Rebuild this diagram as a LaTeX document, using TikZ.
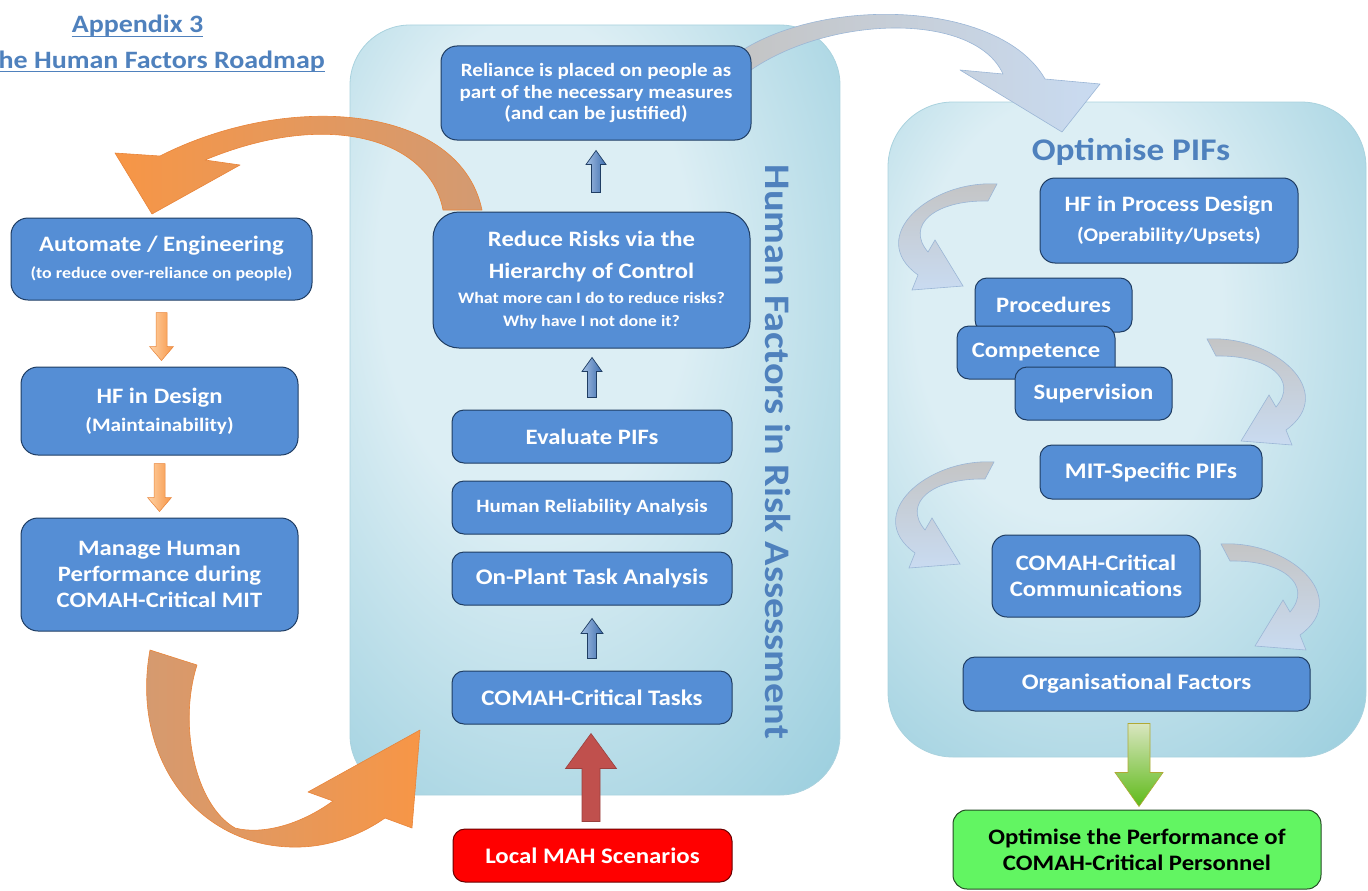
\documentclass[tikz,border=0pt]{standalone}
\usepackage{fontspec}
\setmainfont{Carlito}[FakeStretch=1.12]
\usetikzlibrary{calc}

\definecolor{boxblue}{HTML}{558ED5}
\definecolor{boxline}{HTML}{1F3D63}
\definecolor{titleblue}{HTML}{4F81BD}
\definecolor{panelin}{HTML}{DCEEF4}
\definecolor{panelout}{HTML}{98CDDD}
\definecolor{panelline}{HTML}{A9D2DE}
\definecolor{orangehi}{HTML}{F79646}
\definecolor{orangelo}{HTML}{D39A72}
\definecolor{orangeedge}{HTML}{E8843A}
\definecolor{swirlgray}{HTML}{C4C4C4}
\definecolor{swirlblue}{HTML}{C9DBF1}
\definecolor{swirledge}{HTML}{9BB6D6}
\definecolor{arrlight}{HTML}{A3BFE3}
\definecolor{arrdark}{HTML}{3E6DAE}
\definecolor{mahred}{HTML}{FF0000}
\definecolor{mahline}{HTML}{6A0000}
\definecolor{goodgreen}{HTML}{62F562}
\definecolor{goodline}{HTML}{244A24}
\definecolor{reddark}{HTML}{C0504D}
\definecolor{redlight}{HTML}{EFAFAD}

\pgfdeclareradialshading{panelglow}{\pgfpoint{-8bp}{12bp}}{color(0bp)=(panelin); color(16bp)=(panelin); color(42bp)=(panelout); color(70bp)=(panelout)}

% block arrow: [style]{tail}{tip}{half shaft}{half head}{head length}
\newcommand{\blockarrow}[6][]{%
  \coordinate (ba) at ($(#3)!#6!(#2)$);
  \path[#1] ($(#2)!#4!90:(#3)$) -- ($(ba)!#4!90:(#3)$) -- ($(ba)!#5!90:(#3)$) -- (#3)
    -- ($(ba)!#5!-90:(#3)$) -- ($(ba)!#4!-90:(#3)$) -- ($(#2)!#4!-90:(#3)$) -- cycle;}

\tikzset{
  swirl/.pic={
    \path[swirlfill] (4,-8) .. controls (-63,-12) and (-128,45) .. (-75,83)
      -- (-81,98) -- (-30,94) -- (-58,48) -- (-65,60)
      .. controls (-88,33) and (-58,8) .. (-5,9) -- cycle;
  }
}

\begin{document}
\begin{tikzpicture}[x=1pt,y=-1pt,
    box/.style={draw=boxline, line width=1pt, fill=boxblue, text=white, align=center,
      rounded corners=12pt, inner sep=2pt},
    fs/.style 2 args={font=\fontsize{#1}{#2}\selectfont\bfseries},
    panel/.style={draw=panelline, line width=0.8pt, shade, shading=panelglow, inner sep=0pt},
    heading/.style={text=titleblue, inner sep=0pt},
    ribbon/.style={draw=#1, line width=0.6pt, line join=round},
    swirlfill/.style={draw=swirledge, line width=0.6pt, top color=swirlgray, bottom color=swirlblue},
    bluearr/.style={draw=boxline, line width=0.7pt, left color=arrlight, right color=arrdark},
    orangearr/.style={draw=orangeedge, line width=0.5pt, left color=orange!35!white, right color=orangehi},
    redarr/.style={draw=reddark!80!black, line width=0.6pt, left color=reddark, middle color=redlight, right color=reddark},
    greenarr/.style={draw=olive!70, line width=0.6pt, top color=green!20!olive!25!white, bottom color=green!40!olive!90}]

  \useasboundingbox (0,0) rectangle (1368,891);
  \clip (0,0) rectangle (1368,891);

  % panels
  \node[panel, rounded corners=60pt, minimum width=490pt, minimum height=770pt] (riskpanel) at (595,410) {};
  \node[panel, rounded corners=65pt, minimum width=478pt, minimum height=655pt] (pifpanel) at (1127,429.5) {};

  \node[heading, fs={36}{40}, rotate=-90] (hfrisk) at (778,452) {Human Factors in Risk Assessment};
  \node[heading, fs={31.5}{36}] (optpif) at (1131,152) {Optimise PIFs};

  % title
  \node[heading, fs={25}{29}, anchor=base] (appx) at (137.5,33) {Appendix 3};
  \node[heading, fs={25}{29}, anchor=base east] (roadmap) at (325,68) {The Human Factors Roadmap};
  \draw[titleblue, line width=1.6pt] ([yshift=-3.5pt]appx.base west) -- ([yshift=-3.5pt]appx.base east);
  \draw[titleblue, line width=1.6pt] ([yshift=-3.5pt]roadmap.base west) -- ([yshift=-3.5pt]roadmap.base east);

  % curved ribbons
  \path[ribbon=orangeedge, left color=orangehi, right color=orangelo]
    (443,210) .. controls (430,140) and (330,108) .. (205,160) -- (240,165) -- (152,214)
    -- (115,153) -- (160,156) .. controls (290,90) and (460,105) .. (482,210) -- cycle;
  \path[ribbon=orangeedge, left color=orangelo, right color=orangehi]
    (150,650) .. controls (130,760) and (200,850) .. (300,847)
    .. controls (335,846) and (365,832) .. (385,818) -- (412,828) -- (420,730) -- (308,792)
    -- (333,801) .. controls (300,825) and (262,835) .. (235,828)
    .. controls (195,805) and (178,725) .. (197,665) -- cycle;
  \path[ribbon=swirledge, left color=swirlgray, right color=swirlblue]
    (735,55) .. controls (820,-5) and (1000,0) .. (1045,79) -- (1100,84) -- (1062,132)
    -- (960,70) -- (1003,74) .. controls (975,12) and (830,14) .. (748,72) -- cycle;

  \pic at (993,192) {swirl};
  \pic[xscale=-1] at (1211,347) {swirl};
  \pic at (990,470) {swirl};
  \pic[xscale=-1] at (1225,552) {swirl};

  % left column
  \node[box, fs={22}{27}, minimum width=301pt, minimum height=82pt, rounded corners=17pt] (auto) at (161.5,259)
    {Automate / Engineering\\{\fontsize{16}{19}\selectfont (to reduce over-reliance on people)}};
  \node[box, fs={19}{28}, minimum width=277pt, minimum height=88pt, rounded corners=17pt] (hfdes) at (159.5,411)
    {{\fontsize{22}{26}\selectfont HF in Design}\\(Maintainability)};
  \node[box, fs={22}{26}, minimum width=277pt, minimum height=113pt, rounded corners=17pt] (manage) at (159.5,574.5)
    {Manage Human\\Performance during\\COMAH-Critical MIT};

  % middle column
  \node[box, fs={18.8}{21.7}, minimum width=310pt, minimum height=94pt, rounded corners=16pt] (reliance) at (596,93)
    {Reliance is placed on people as\\part of the necessary measures\\(and can be justified)};
  \node[box, fs={16}{23}, minimum width=317pt, minimum height=136pt, rounded corners=26pt] (reduce) at (591.5,280)
    {{\fontsize{22}{26}\selectfont Reduce Risks via the}\\[9pt]{\fontsize{22}{26}\selectfont Hierarchy of Control}\\[2pt]
     What more can I do to reduce risks?\\Why have I not done it?};
  \node[box, fs={22}{26}, minimum width=280pt, minimum height=53pt] (evaluate) at (592,436.5) {Evaluate PIFs};
  \node[box, fs={18.8}{22}, minimum width=280pt, minimum height=53pt] (hra) at (592,507.5) {Human Reliability Analysis};
  \node[box, fs={22.3}{26}, minimum width=280pt, minimum height=53pt] (onplant) at (592,578.5) {On-Plant Task Analysis};
  \node[box, fs={22.2}{26}, minimum width=280pt, minimum height=53pt] (tasks) at (592,697.5) {COMAH-Critical Tasks};
  \node[box, fs={22.2}{26}, fill=mahred, draw=mahline, minimum width=279pt, minimum height=53pt] (mah) at (592.5,855.5) {Local MAH Scenarios};

  % right column
  \node[box, fs={19.3}{30}, minimum width=258pt, minimum height=85pt, rounded corners=15pt] (procdes) at (1169,220.5)
    {{\fontsize{22}{26}\selectfont HF in Process Design}\\(Operability/Upsets)};
  \node[box, fs={22}{26}, minimum width=157pt, minimum height=54pt] (proc) at (1053.5,305) {Procedures};
  \node[box, fs={22}{26}, minimum width=158pt, minimum height=53pt] (comp) at (1036,352.5) {Competence};
  \node[box, fs={22}{26}, minimum width=157pt, minimum height=53pt] (sup) at (1093.5,393.5) {Supervision};
  \node[box, fs={22.3}{26}, minimum width=222pt, minimum height=54pt] (mit) at (1151,472) {MIT-Specific PIFs};
  \node[box, fs={22.1}{26}, minimum width=208pt, minimum height=82pt, rounded corners=15pt] (comms) at (1096,576)
    {COMAH-Critical\\Communications};
  \node[box, fs={22.2}{26}, minimum width=347pt, minimum height=54pt] (org) at (1136.5,684) {Organisational Factors};
  \node[box, fs={22.1}{26}, fill=goodgreen, draw=goodline, text=black, minimum width=368pt, minimum height=79pt, rounded corners=14pt]
    (good) at (1137,849.5) {Optimise the Performance of\\COMAH-Critical Personnel};

  % block arrows
  \coordinate (o1t) at ($(auto.south)+(0,12)$);
  \coordinate (o1h) at ($(auto.south |- hfdes.north)+(0,-6)$);
  \blockarrow[orangearr]{o1t}{o1h}{5.5pt}{12pt}{14pt}
  \coordinate (o2t) at ($(hfdes.south)+(0,8)$);
  \coordinate (o2h) at ($(hfdes.south |- manage.north)+(0,-6)$);
  \blockarrow[orangearr]{o2t}{o2h}{5.5pt}{12pt}{14pt}

  \coordinate (b1t) at ($(reliance.south)+(0,52)$);
  \coordinate (b1h) at ($(reliance.south)+(0,10)$);
  \blockarrow[bluearr]{b1t}{b1h}{4.5pt}{10pt}{14pt}
  \coordinate (b2t) at ($(evaluate.north)+(0,-12)$);
  \coordinate (b2h) at ($(evaluate.north |- reduce.south)+(0,9)$);
  \blockarrow[bluearr]{b2t}{b2h}{4.5pt}{10pt}{14pt}
  \coordinate (b3t) at ($(tasks.north)+(0,-12)$);
  \coordinate (b3h) at ($(tasks.north |- onplant.south)+(0,13)$);
  \blockarrow[bluearr]{b3t}{b3h}{4.5pt}{11pt}{15pt}

  \coordinate (rt) at ($(mah.north)+(-1.5,-7)$);
  \coordinate (rh) at ($(mah.north |- tasks.south)+(-1.5,9)$);
  \blockarrow[redarr]{rt}{rh}{9pt}{25.5pt}{35pt}
  \coordinate (gt) at ($(org.south)+(2.5,12)$);
  \coordinate (gh) at ($(org.south |- good.north)+(2.5,-3)$);
  \blockarrow[greenarr]{gt}{gh}{11pt}{24pt}{34pt}
\end{tikzpicture}
\end{document}
